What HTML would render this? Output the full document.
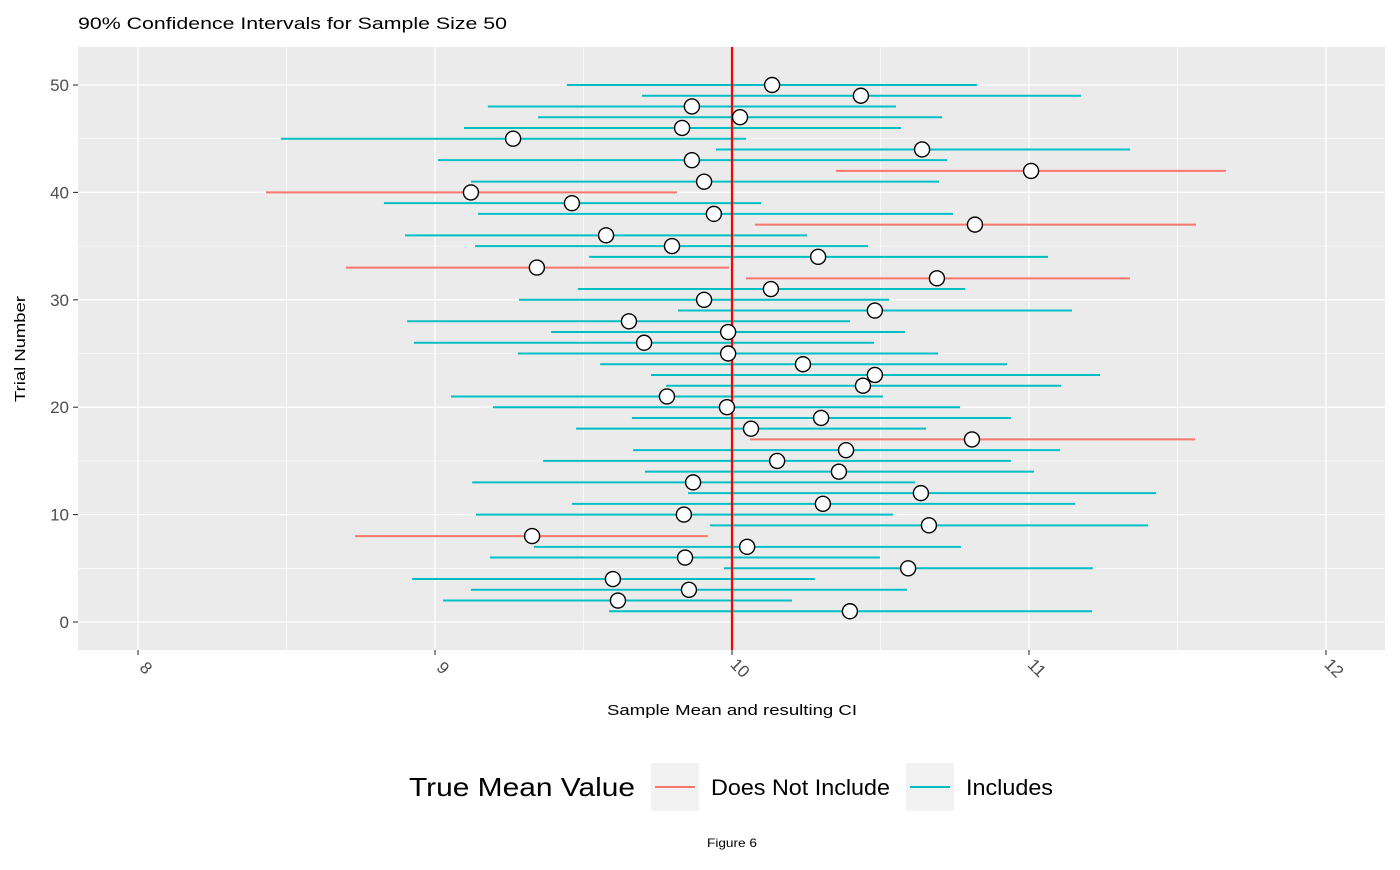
<!DOCTYPE html>
<html><head><meta charset="utf-8"><style>
body{margin:0;background:#fff;font-family:"Liberation Sans",Arial,sans-serif}
svg text{font-family:"Liberation Sans",Arial,sans-serif}
</style></head><body>
<svg id="chart" width="1400" height="865" xmlns="http://www.w3.org/2000/svg">
<text x="78" y="29" font-size="17" textLength="429" lengthAdjust="spacingAndGlyphs" fill="#000">90% Confidence Intervals for Sample Size 50</text>
<rect x="78" y="47" width="1307" height="603" fill="#EBEBEB"/>
<g id="grid"></g><g id="marks"></g><g id="axes"></g>
<text x="607" y="715" font-size="15" textLength="250" lengthAdjust="spacingAndGlyphs">Sample Mean and resulting CI</text>
<text transform="translate(25,402) rotate(-90)" font-size="15" textLength="106" lengthAdjust="spacingAndGlyphs">Trial Number</text>
<g>
<text x="409" y="796" font-size="26" textLength="226" lengthAdjust="spacingAndGlyphs">True Mean Value</text>
<rect x="651" y="763" width="48" height="48" fill="#F2F2F2"/>
<line x1="655" y1="787" x2="695" y2="787" stroke="#F8766D" stroke-width="2"/>
<text x="711" y="795" font-size="22" textLength="179" lengthAdjust="spacingAndGlyphs">Does Not Include</text>
<rect x="906" y="763" width="48" height="48" fill="#F2F2F2"/>
<line x1="910" y1="787" x2="950" y2="787" stroke="#00BFC4" stroke-width="2"/>
<text x="966" y="795" font-size="22" textLength="87" lengthAdjust="spacingAndGlyphs">Includes</text>
</g>
<text x="707" y="847" font-size="12" textLength="50" lengthAdjust="spacingAndGlyphs">Figure 6</text>
</svg>
<script>
const trials=[1,2,3,4,5,6,7,8,9,10,11,12,13,14,15,16,17,18,19,20,21,22,23,24,25,26,27,28,29,30,31,32,33,34,35,36,37,38,39,40,41,42,43,44,45,46,47,48,49,50];
const means=[10.397,9.616,9.855,9.599,10.593,9.842,10.051,9.327,10.663,9.838,10.306,10.636,9.869,10.360,10.152,10.384,10.808,10.064,10.300,9.983,9.781,10.441,10.481,10.239,9.987,9.704,9.987,9.653,10.481,9.906,10.131,10.690,9.343,10.290,9.798,9.576,10.818,9.939,9.461,9.121,9.906,11.007,9.865,10.640,9.263,9.832,10.027,9.865,10.434,10.135];
const lowers=[9.586,9.027,9.121,8.923,9.973,9.185,9.333,8.731,9.926,9.138,9.461,9.852,9.125,9.707,9.364,9.667,10.061,9.475,9.663,9.195,9.054,9.778,9.727,9.556,9.279,8.929,9.391,8.906,9.818,9.283,9.481,10.047,8.700,9.519,9.135,8.899,10.077,9.145,8.828,8.431,9.121,10.350,9.010,9.946,8.481,9.098,9.347,9.178,9.697,9.444];
const uppers=[11.212,10.202,10.589,10.279,11.215,10.498,10.771,9.919,11.401,10.542,11.155,11.428,10.616,11.017,10.939,11.104,11.559,10.653,10.939,10.768,10.508,11.108,11.239,10.926,10.694,10.478,10.582,10.397,11.145,10.529,10.785,11.340,9.990,11.064,10.458,10.253,11.562,10.744,10.098,9.815,10.697,11.663,10.724,11.340,10.047,10.569,10.707,10.552,11.175,10.825];
const trueMean=10;
const xTicks=[8,9,10,11,12];
const yTicks=[0,10,20,30,40,50];
const NS="http://www.w3.org/2000/svg";
const X=v=>138+(v-8)*297;
const Y=v=>622-v*10.74;
function mk(p,t,a){const e=document.createElementNS(NS,t);for(const k in a)e.setAttribute(k,a[k]);p.appendChild(e);return e;}
const grid=document.getElementById('grid'),marks=document.getElementById('marks'),axes=document.getElementById('axes');
for(let i=0;i<xTicks.length;i++){const v=xTicks[i];
 if(i<xTicks.length-1){const g=mk(grid,'line',{x1:X(v+0.5),x2:X(v+0.5),y1:47,y2:650,stroke:'#fff','stroke-width':0.6});
 }
 const l=mk(grid,'line',{x1:X(v),x2:X(v),y1:47,y2:650,stroke:'#fff','stroke-width':1.3});
 
 mk(axes,'line',{x1:X(v),x2:X(v),y1:650,y2:655,stroke:'#333','stroke-width':1.1});
 const t=mk(axes,'text',{transform:`translate(${X(v)+4},${672}) rotate(45)`,'font-size':17,fill:'#4D4D4D','text-anchor':'middle'});
 t.textContent=v;}
for(let i=0;i<yTicks.length;i++){const v=yTicks[i];
 if(i<yTicks.length-1){const g=mk(grid,'line',{x1:78,x2:1385,y1:Y(v+5),y2:Y(v+5),stroke:'#fff','stroke-width':0.6});
 }
 const l=mk(grid,'line',{x1:78,x2:1385,y1:Y(v),y2:Y(v),stroke:'#fff','stroke-width':1.3});
 
 mk(axes,'line',{x1:73,x2:78,y1:Y(v),y2:Y(v),stroke:'#333','stroke-width':1.1});
 const t=mk(axes,'text',{x:69,y:Y(v)+6,'font-size':17,fill:'#4D4D4D','text-anchor':'end'});
 t.textContent=v;}
for(let i=0;i<trials.length;i++){const inc=lowers[i]<=trueMean&&uppers[i]>=trueMean;
 const l=mk(marks,'line',{x1:X(lowers[i]),x2:X(uppers[i]),y1:Y(trials[i]),y2:Y(trials[i]),stroke:inc?'#00BFC4':'#F8766D','stroke-width':2});
 }
const vl=mk(marks,'line',{x1:X(trueMean),x2:X(trueMean),y1:47,y2:650,stroke:'#FF0000','stroke-width':2.2});

for(let i=0;i<trials.length;i++){
 const c=mk(marks,'circle',{cx:X(means[i]),cy:Y(trials[i]),r:7.5,fill:'#fff',stroke:'#000','stroke-width':1.4});
 }
</script>
</body></html>
